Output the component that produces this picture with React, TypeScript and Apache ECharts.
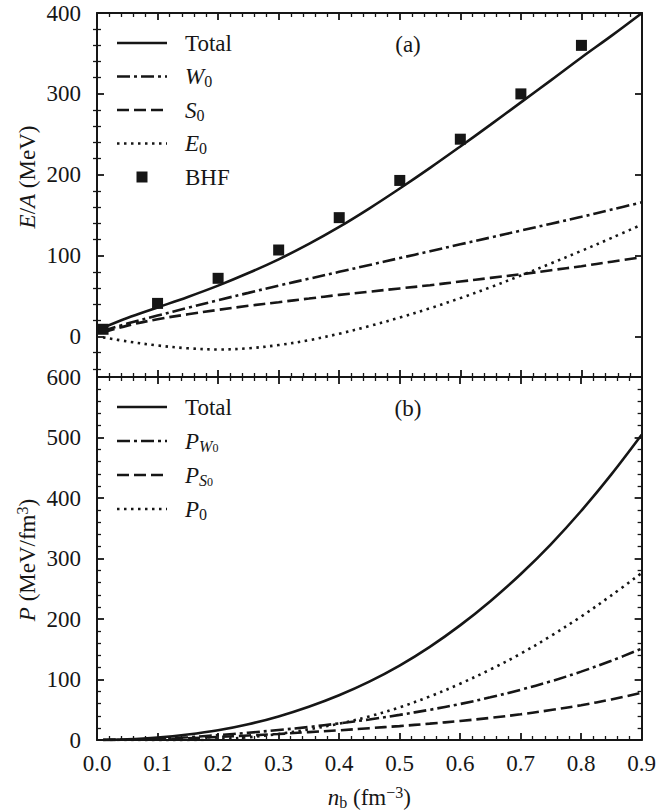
import React, { useEffect, useRef } from "react";
import * as echarts from "echarts";

// Baryon density grid n_b (fm^-3) for the model curves
const densities = [0.01, 0.05, 0.1, 0.15, 0.2, 0.25, 0.3, 0.35, 0.4, 0.45, 0.5, 0.55, 0.6, 0.65, 0.7, 0.75, 0.8, 0.85, 0.9];

// Energy per baryon E/A (MeV) and its contributions
const energyTotal = [11, 23, 36, 49, 63, 78.5, 95.5, 114.5, 135.5, 158.5, 183, 208.5, 235, 262, 289.5, 317, 345, 372, 400];
const energyW0 = [7, 16, 26, 35.5, 45, 54, 63, 71.5, 80, 88.5, 97, 105.5, 114, 122.5, 131, 139.5, 148, 157, 166];
const energyS0 = [5, 13.5, 21.5, 27.5, 33, 38, 42.5, 47, 51.5, 55.5, 59.5, 63.5, 68, 72.5, 77, 82, 87, 92.5, 98];
const energyE0 = [-1, -6, -11, -14.5, -16, -14.5, -10.5, -4.5, 3.5, 13, 23.5, 35, 47.5, 61, 75.5, 90.5, 106, 122, 138.5];

// Brueckner-Hartree-Fock reference points
const bhfDensities = [0.01, 0.1, 0.2, 0.3, 0.4, 0.5, 0.6, 0.7, 0.8];
const bhfEnergy = [9, 41, 72, 107, 147, 193, 244, 300, 360];

// Pressure P (MeV/fm^3) and its contributions
const pressureTotal = [0, 1, 4, 9, 16, 26, 39, 55, 74, 96.5, 123, 154, 189.5, 229.5, 274, 323.5, 378.5, 439, 504.5];
const pressureW0 = [0, 0.5, 2, 4.5, 8, 12, 16.5, 21.5, 27.5, 34, 41.5, 50, 59.5, 70.5, 83, 97, 113, 131, 151];
const pressureS0 = [0, 0.5, 1.5, 3, 5, 7.5, 10, 13, 16, 19.5, 23, 27, 31.5, 36.5, 42.5, 49.5, 57.5, 67, 78];
const pressure0 = [0, -0.2, -0.8, -0.5, 1, 4.5, 10, 17.5, 27, 39, 54, 72, 93, 116.5, 142.5, 172, 204, 239, 276];

// Tick values of the energy axis (it starts below zero)
const energyMajorTicks = [0, 100, 200, 300, 400];
const energyMinorTicks = [-40, -20, 20, 40, 60, 80, 120, 140, 160, 180, 220, 240, 260, 280, 320, 340, 360, 380];

const INK = "#161616";
const SERIF = "Liberation Serif, DejaVu Serif, serif";
const FS = 23;

const DASH = {
  solid: null as number[] | null,
  dashDot: [13, 4, 3, 4],
  dashed: [12, 5],
  dotted: [2.5, 4.5],
};
const LINE_W = 2.6;

const zip = (xs: number[], ys: number[]) => xs.map((x, i) => [x, ys[i]]);

// rich text styles for axis names (component style: color)
const axisRich = {
  r: { fontFamily: SERIF, fontSize: FS, color: INK, lineHeight: 26 },
  i: { fontFamily: SERIF, fontSize: FS, fontStyle: "italic", color: INK, lineHeight: 26 },
  sub: { fontFamily: SERIF, fontSize: 16, color: INK, lineHeight: 16, verticalAlign: "bottom" },
  sup: { fontFamily: SERIF, fontSize: 16, color: INK, lineHeight: 16, verticalAlign: "top" },
};

// rich text styles for graphic texts (zrender style: fill)
const gRich = {
  r: { fontFamily: SERIF, fontSize: FS, fill: INK, lineHeight: 26 },
  i: { fontFamily: SERIF, fontSize: FS, fontStyle: "italic", fill: INK, lineHeight: 26 },
  sub: { fontFamily: SERIF, fontSize: 16, fill: INK, lineHeight: 16, verticalAlign: "bottom" },
  subi: { fontFamily: SERIF, fontSize: 16, fontStyle: "italic", fill: INK, lineHeight: 16, verticalAlign: "bottom" },
  subsub: { fontFamily: SERIF, fontSize: 12, fill: INK, lineHeight: 8, verticalAlign: "bottom" },
  sup: { fontFamily: SERIF, fontSize: 16, fill: INK, lineHeight: 16, verticalAlign: "top" },
};

type LegendRow = { text: string; kind: "line" | "square"; dash?: number[] | null };

const legendEnergy: LegendRow[] = [
  { text: "{r|Total}", kind: "line", dash: DASH.solid },
  { text: "{i|W}{sub|0}", kind: "line", dash: DASH.dashDot },
  { text: "{i|S}{sub|0}", kind: "line", dash: DASH.dashed },
  { text: "{i|E}{sub|0}", kind: "line", dash: DASH.dotted },
  { text: "{r|BHF}", kind: "square" },
];
const legendPressure: LegendRow[] = [
  { text: "{r|Total}", kind: "line", dash: DASH.solid },
  { text: "{i|P}{subi|W}{subsub|0}", kind: "line", dash: DASH.dashDot },
  { text: "{i|P}{subi|S}{subsub|0}", kind: "line", dash: DASH.dashed },
  { text: "{i|P}{sub|0}", kind: "line", dash: DASH.dotted },
];

function legendGroup(rows: LegendRow[], top: number, gap: number) {
  const children: any[] = [];
  rows.forEach((row, k) => {
    const y = top + k * gap;
    if (row.kind === "line") {
      children.push({
        type: "line",
        shape: { x1: 117, y1: y, x2: 167, y2: y },
        style: { stroke: INK, lineWidth: LINE_W, lineDash: row.dash || undefined, lineCap: "butt" },
      });
    } else {
      children.push({
        type: "rect",
        shape: { x: 136.5, y: y - 5.5, width: 11, height: 11 },
        style: { fill: INK },
      });
    }
    children.push({
      type: "text",
      x: 185,
      y: y,
      style: { text: row.text, rich: gRich, fill: INK, verticalAlign: "middle", align: "left" },
    });
  });
  return { type: "group", children };
}

const majorTick = { inside: true, length: 7, lineStyle: { color: INK, width: 1.8 } };
const minorTick = { show: true, splitNumber: 5, length: 4, lineStyle: { color: INK, width: 1.3 } };
const axisLine = { show: true, onZero: false, lineStyle: { color: INK, width: 2 } };
const noSplit = { show: false };
const tickLabel = { color: INK, fontFamily: SERIF, fontSize: FS };

function xAxisFor(gridIndex: number, position: "top" | "bottom", withLabels: boolean) {
  return {
    type: "value",
    gridIndex,
    position,
    min: 0,
    max: 0.9,
    interval: 0.1,
    axisLine,
    axisTick: majorTick,
    minorTick,
    splitLine: noSplit,
    minorSplitLine: noSplit,
    axisLabel: {
      show: withLabels,
      margin: 12,
      ...tickLabel,
      formatter: (v: number) => v.toFixed(1),
    },
  };
}

function energyAxis(position: "left" | "right", minor: boolean, withLabels: boolean) {
  return {
    type: "value",
    gridIndex: 0,
    position,
    min: -50,
    max: 400,
    axisLine: minor ? { show: false } : axisLine,
    axisTick: minor
      ? { inside: true, length: 4, lineStyle: { color: INK, width: 1.3 }, customValues: energyMinorTicks }
      : { ...majorTick, customValues: energyMajorTicks },
    splitLine: noSplit,
    axisLabel: {
      show: withLabels,
      customValues: energyMajorTicks,
      margin: 16,
      ...tickLabel,
    },
  };
}

function pressureAxis(position: "left" | "right", withLabels: boolean) {
  return {
    type: "value",
    gridIndex: 1,
    position,
    min: 0,
    max: 600,
    interval: 100,
    axisLine,
    axisTick: majorTick,
    minorTick,
    splitLine: noSplit,
    minorSplitLine: noSplit,
    axisLabel: { show: withLabels, margin: 16, ...tickLabel },
  };
}

function curve(name: string, xs: number[], ys: number[], dash: number[] | null, xi: number, yi: number) {
  return {
    type: "line",
    name,
    xAxisIndex: xi,
    yAxisIndex: yi,
    data: zip(xs, ys),
    smooth: 0.35,
    symbol: "none",
    clip: true,
    lineStyle: { color: INK, width: LINE_W, type: dash || "solid", cap: "butt" },
  };
}

export default function App() {
  const ref = useRef<HTMLDivElement>(null);

  useEffect(() => {
    if (!ref.current) return;
    const chart = echarts.init(ref.current, undefined, { renderer: "svg" });

    const option: any = {
      animation: false,
      backgroundColor: "#ffffff",
      textStyle: { fontFamily: SERIF },
      grid: [
        { left: 97, right: 17, top: 13, height: 364 },
        { left: 97, right: 17, top: 377, height: 364 },
      ],
      xAxis: [
        xAxisFor(0, "bottom", false),
        xAxisFor(0, "top", false),
        {
          ...xAxisFor(1, "bottom", true),
          name: "{i|n}{sub|b}{r| (fm}{sup|−3}{r|)}",
          nameLocation: "middle",
          nameGap: 44,
          nameTextStyle: { rich: axisRich, color: INK },
        },
        xAxisFor(1, "top", false),
      ],
      yAxis: [
        energyAxis("left", false, true),
        energyAxis("left", true, false),
        energyAxis("right", false, false),
        energyAxis("right", true, false),
        pressureAxis("left", true),
        pressureAxis("right", false),
      ],
      series: [
        curve("Total", densities, energyTotal, DASH.solid, 0, 0),
        curve("W0", densities, energyW0, DASH.dashDot, 0, 0),
        curve("S0", densities, energyS0, DASH.dashed, 0, 0),
        curve("E0", densities, energyE0, DASH.dotted, 0, 0),
        {
          type: "scatter",
          name: "BHF",
          xAxisIndex: 0,
          yAxisIndex: 0,
          data: zip(bhfDensities, bhfEnergy),
          symbol: "rect",
          symbolSize: 11,
          itemStyle: { color: INK, opacity: 1 },
          z: 5,
        },
        curve("Total P", densities, pressureTotal, DASH.solid, 2, 4),
        curve("P_W0", densities, pressureW0, DASH.dashDot, 2, 4),
        curve("P_S0", densities, pressureS0, DASH.dashed, 2, 4),
        curve("P0", densities, pressure0, DASH.dotted, 2, 4),
      ],
      graphic: [
        legendGroup(legendEnergy, 43, 33.5),
        legendGroup(legendPressure, 407, 34),
        {
          type: "text",
          x: 408,
          y: 44,
          style: { text: "(a)", fontFamily: SERIF, fontSize: FS, fill: INK, align: "center", verticalAlign: "middle" },
        },
        {
          type: "text",
          x: 408,
          y: 408,
          style: { text: "(b)", fontFamily: SERIF, fontSize: FS, fill: INK, align: "center", verticalAlign: "middle" },
        },
        {
          type: "text",
          x: 27,
          y: 177,
          rotation: Math.PI / 2,
          style: {
            text: "{i|E}{r|/}{i|A}{r| (MeV)}",
            rich: gRich,
            fill: INK,
            align: "center",
            verticalAlign: "middle",
          },
        },
        {
          type: "text",
          x: 27,
          y: 560,
          rotation: Math.PI / 2,
          style: {
            text: "{i|P}{r| (MeV/fm}{sup|3}{r|)}",
            rich: gRich,
            fill: INK,
            align: "center",
            verticalAlign: "middle",
          },
        },
      ],
    };

    chart.setOption(option);
    return () => chart.dispose();
  }, []);

  return (
    <div
      ref={ref}
      style={{ position: "absolute", left: 0, top: 0, width: 659, height: 811, background: "#fff" }}
    />
  );
}
